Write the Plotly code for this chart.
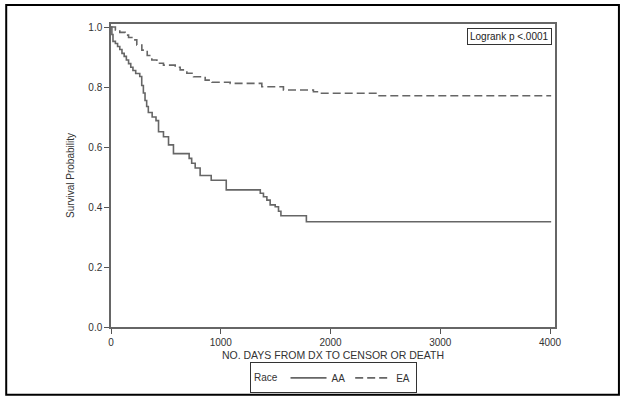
import plotly.graph_objects as go

# AA (solid) Kaplan-Meier step points
aa_days = [0, 8, 18, 40, 60, 80, 100, 120, 140, 160, 180, 200, 225, 262, 280, 295, 310, 325, 340,
           375, 410, 433, 478, 524, 569, 712, 735, 767, 812, 913, 1050, 1360, 1389, 1420, 1450,
           1496, 1526, 1548, 1780, 4010]
aa_surv = [1.0, 0.975, 0.952, 0.945, 0.935, 0.925, 0.912, 0.902, 0.89, 0.878, 0.866, 0.855, 0.845,
           0.835, 0.805, 0.78, 0.755, 0.735, 0.715, 0.70, 0.688, 0.651, 0.634, 0.607, 0.578, 0.562,
           0.546, 0.53, 0.505, 0.489, 0.457, 0.446, 0.434, 0.423, 0.407, 0.401, 0.386, 0.371, 0.351,
           0.351]

# EA (dashed) Kaplan-Meier step points
ea_days = [0, 40, 80, 129, 160, 190, 235, 281, 330, 372, 418, 478, 585, 630, 691, 752, 858, 919,
           1086, 1374, 1571, 1844, 1905, 2422, 4010]
ea_surv = [1.0, 0.99, 0.982, 0.973, 0.965, 0.957, 0.94, 0.923, 0.905, 0.89, 0.879, 0.873, 0.866,
           0.857, 0.846, 0.834, 0.823, 0.816, 0.812, 0.801, 0.79, 0.784, 0.779, 0.771, 0.771]

x_ticks = [0, 1000, 2000, 3000, 4000]
y_ticks = [0.0, 0.2, 0.4, 0.6, 0.8, 1.0]
y_tick_text = ["0.0", "0.2", "0.4", "0.6", "0.8", "1.0"]

FONT = "Liberation Sans, Arial, sans-serif"
LINE_COL = "#666666"
LEG_Y = -0.168

fig = go.Figure()
fig.add_trace(go.Scatter(x=aa_days, y=aa_surv, mode="lines", name="AA",
                         line=dict(shape="hv", color=LINE_COL, width=1.6)))
fig.add_trace(go.Scatter(x=ea_days, y=ea_surv, mode="lines", name="EA",
                         line=dict(shape="hv", color=LINE_COL, width=1.6, dash="8px,4px")))

fig.update_layout(
    width=624, height=402,
    margin=dict(l=111, r=69, t=24, b=75, autoexpand=False),
    paper_bgcolor="white", plot_bgcolor="white",
    font=dict(family=FONT, size=10, color="#333333"),
    showlegend=True,
    legend=dict(orientation="h", x=0.5, xanchor="center", y=LEG_Y, yanchor="middle",
                title=dict(text="\u00a0" * 9, side="left", font=dict(size=10)),
                bordercolor="#333333", borderwidth=1, font=dict(size=10),
                itemwidth=36, tracegroupgap=0),
    xaxis=dict(range=[0, 4045], tickvals=x_ticks, ticks="outside", ticklen=5,
               tickcolor="#555555", showgrid=False, zeroline=False, automargin=False,
               showline=True, linecolor="#666666", linewidth=1.5, mirror=True,
               title=dict(text="NO. DAYS FROM DX TO CENSOR OR DEATH", standoff=5,
                          font=dict(size=10.5))),
    yaxis=dict(range=[0, 1.01], tickvals=y_ticks, ticktext=y_tick_text, ticks="outside",
               ticklen=5, tickcolor="#555555", showgrid=False, zeroline=False, automargin=False,
               showline=True, linecolor="#666666", linewidth=1.5, mirror=True,
               title=dict(text="Survival Probability", standoff=12, font=dict(size=10))),
    annotations=[dict(text="Logrank p <.0001", xref="paper", yref="paper", x=0.993, y=0.987,
                      xanchor="right", yanchor="top", showarrow=False,
                      bordercolor="#333333", borderwidth=1, borderpad=2,
                      font=dict(size=10, color="#222222")),
                 dict(text="Race", xref="paper", yref="paper", x=0.318, y=LEG_Y,
                      xanchor="left", yanchor="middle", showarrow=False,
                      font=dict(size=10, color="#333333"))],
    shapes=[dict(type="rect", xref="paper", yref="paper", x0=-0.236, x1=1.144,
                 y0=-0.224, y1=1.063, line=dict(color="black", width=2))],
)

fig.write_html("out.html", config={"displayModeBar": False},
               post_script="document.body.style.margin='0';document.body.style.padding='0';")
